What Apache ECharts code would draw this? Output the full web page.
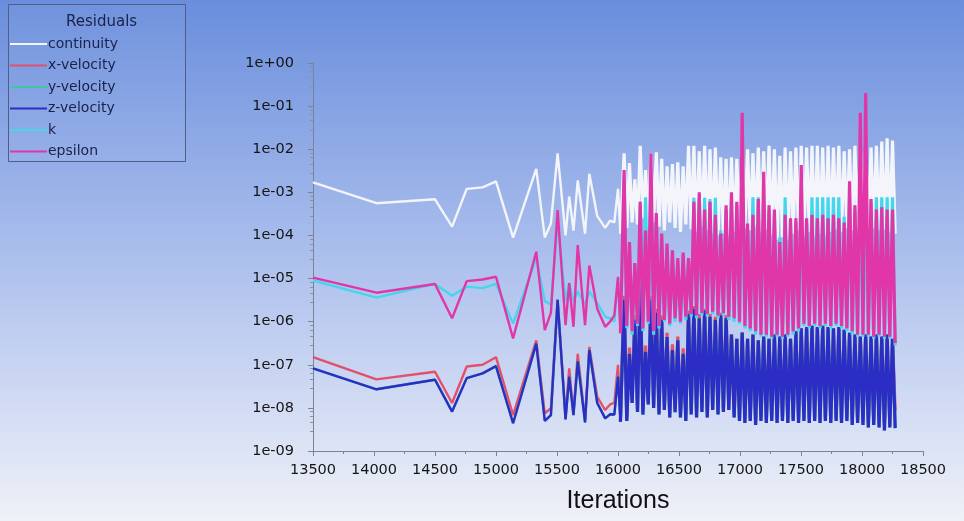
<!DOCTYPE html>
<html>
<head>
<meta charset="utf-8">
<script src="https://cdn.jsdelivr.net/npm/echarts@6/dist/echarts.min.js"></script>
<style>
html, body {margin: 0; padding: 0;}
#chart {width: 964px; height: 521px;}
</style>
</head>
<body>
<div id="chart"></div>
<script>
// iteration of every plotted vertex (shared by all residuals)
const iterations = [
	13500, 14020, 14500, 14640, 14760, 14890, 15000, 15140, 15330, 15400, 15450, 15505,
	15570, 15600, 15635, 15670, 15730, 15765, 15830, 15895, 15935, 15970, 16000, 16020,
	16050, 16072, 16094, 16116, 16138, 16160, 16182, 16204, 16226, 16248,
	16270, 16292, 16314, 16336, 16358, 16380, 16402, 16424, 16446, 16468,
	16490, 16512, 16534, 16556, 16578, 16600, 16622, 16644, 16666, 16688,
	16710, 16732, 16754, 16776, 16798, 16820, 16842, 16864, 16886, 16908,
	16930, 16952, 16974, 16996, 17018, 17040, 17062, 17084, 17106, 17128,
	17150, 17172, 17194, 17216, 17238, 17260, 17282, 17304, 17326, 17348,
	17370, 17392, 17414, 17436, 17458, 17480, 17502, 17524, 17546, 17568,
	17590, 17612, 17634, 17656, 17678, 17700, 17722, 17744, 17766, 17788,
	17810, 17832, 17854, 17876, 17898, 17920, 17942, 17964, 17986, 18008,
	18030, 18052, 18074, 18096, 18118, 18140, 18162, 18184, 18206, 18228,
	18250, 18272,
];
// index where the dense oscillating part starts (drawn with heavier strokes)
const denseStart = 23;

const continuity = [
	1.7e-3, 5.6e-4, 6.9e-4, 1.6e-4, 1.2e-3, 1.3e-3, 1.8e-3, 8.9e-5, 3.5e-3, 9e-5, 1.9e-4, 8e-3,
	1e-4, 8e-4, 1.3e-4, 1.9e-3, 1.1e-4, 2.7e-3, 2.8e-4, 1.5e-4, 2.2e-4, 2e-4, 1.2e-3, 1.1e-4,
	8e-3, 1.5e-4, 4.8e-3, 2e-4, 2e-3, 1.8e-4, 1.2e-2, 2.5e-4, 3.3e-3, 1.5e-4,
	8e-3, 2e-4, 8.5e-3, 1.6e-4, 6e-3, 1.3e-4, 4e-3, 2e-4, 4.5e-3, 1.5e-4,
	5e-3, 1.2e-4, 4e-3, 1.8e-4, 1.2e-2, 1.4e-4, 1.2e-2, 1.2e-4, 9e-3, 1.6e-4,
	1.2e-2, 1.3e-4, 1e-2, 1.1e-4, 1.1e-2, 1e-4, 6.5e-3, 1.1e-4, 6e-3, 1e-4,
	6.5e-3, 1.2e-4, 6e-3, 1.4e-4, 1.1e-2, 1.5e-4, 1e-2, 1.3e-4, 8e-3, 1.6e-4,
	1.1e-2, 1.2e-4, 9e-3, 1.4e-4, 1.2e-2, 1e-4, 1e-2, 8e-5, 7e-3, 9e-5,
	1.1e-2, 8e-5, 9e-3, 1.1e-4, 1.1e-2, 1.3e-4, 1.2e-2, 1e-4, 1.1e-2, 1.2e-4,
	1.2e-2, 9e-5, 1.2e-2, 1.1e-4, 1.1e-2, 1e-4, 1.2e-2, 1.2e-4, 1.1e-2, 1.4e-4,
	1.2e-2, 1.2e-4, 9e-3, 1.5e-4, 1e-2, 1.3e-4, 1.2e-2, 1.4e-4, 1.1e-2, 1.6e-4,
	1.1e-2, 1.3e-4, 1.1e-2, 1.5e-4, 1.2e-2, 1.3e-4, 1.5e-2, 1.4e-4, 1.8e-2, 1.2e-4,
	1.6e-2, 1.1e-4,
];

const xVelocity = [
	1.5e-7, 4.6e-8, 6.9e-8, 1.3e-8, 9.1e-8, 1e-7, 1.5e-7, 6.8e-9, 3.7e-7, 7.5e-9, 9.8e-9, 3.2e-6,
	6.3e-9, 8.3e-8, 7.4e-9, 1.8e-7, 5.2e-9, 2.6e-7, 1.8e-8, 8.9e-9, 1.2e-8, 1.3e-8, 1e-7, 5.2e-9,
	4e-6, 6e-9, 2.5e-7, 1.5e-8, 1.4e-6, 1e-8, 1e-5, 9e-9, 2.8e-7, 1.4e-8,
	4e-6, 1.2e-8, 2e-6, 9e-9, 1.4e-6, 1.1e-8, 5.5e-7, 8e-9, 3e-7, 1e-8,
	4.5e-7, 8e-9, 2.4e-7, 7e-9, 1.8e-6, 9e-9, 2.3e-6, 8e-9, 1.5e-6, 1e-8,
	2e-6, 8e-9, 1.5e-6, 1.1e-8, 1.3e-6, 9e-9, 1.6e-6, 1e-8, 1.4e-6, 1.1e-8,
	5e-7, 7e-9, 4e-7, 6e-9, 5.6e-7, 5.5e-9, 4e-7, 6e-9, 5e-7, 5e-9,
	3.7e-7, 6e-9, 4.5e-7, 5.5e-9, 4e-7, 6e-9, 5e-7, 5.5e-9, 4.5e-7, 6e-9,
	5e-7, 5.5e-9, 4e-7, 6e-9, 6e-7, 5.5e-9, 7e-7, 6e-9, 7.5e-7, 5.5e-9,
	8e-7, 6e-9, 7.5e-7, 5.5e-9, 8e-7, 6e-9, 7.5e-7, 5.5e-9, 7e-7, 6e-9,
	7.5e-7, 5.5e-9, 6.5e-7, 6e-9, 5.5e-7, 5e-9, 5e-7, 5.5e-9, 4.5e-7, 5e-9,
	5e-7, 4.5e-9, 4.5e-7, 5e-9, 5e-7, 4.5e-9, 4.5e-7, 4e-9, 5e-7, 4.5e-9,
	4e-7, 8.5e-9,
];

const zVelocity = [
	8.3e-8, 2.7e-8, 4.5e-8, 8.2e-9, 4.9e-8, 6.3e-8, 9.3e-8, 4.4e-9, 3.1e-7, 5e-9, 6.8e-9, 3.2e-6,
	5.4e-9, 5.3e-8, 6.8e-9, 1.2e-7, 4.6e-9, 2.2e-7, 1.3e-8, 5.7e-9, 7.1e-9, 7e-9, 5.3e-8, 4.8e-9,
	3.2e-6, 5e-9, 1.8e-7, 1.3e-8, 1.1e-6, 8e-9, 9e-6, 7e-9, 2e-7, 1.2e-8,
	3.2e-6, 1e-8, 1.6e-6, 7e-9, 1.1e-6, 9e-9, 4.4e-7, 6e-9, 2.2e-7, 8e-9,
	3.7e-7, 6e-9, 1.8e-7, 5e-9, 1.5e-6, 7e-9, 2e-6, 6e-9, 1.2e-6, 8e-9,
	1.8e-6, 6e-9, 1.3e-6, 9e-9, 1.1e-6, 7e-9, 1.4e-6, 8e-9, 1.2e-6, 9e-9,
	5e-7, 6e-9, 4e-7, 5e-9, 5.6e-7, 4.5e-9, 4e-7, 5e-9, 5e-7, 4e-9,
	3.7e-7, 5e-9, 4.5e-7, 4.5e-9, 4e-7, 5e-9, 5e-7, 4.5e-9, 4.5e-7, 5e-9,
	5e-7, 4.5e-9, 4e-7, 5e-9, 6e-7, 4.5e-9, 7e-7, 5e-9, 7.5e-7, 4.5e-9,
	8e-7, 5e-9, 7.5e-7, 4.5e-9, 8e-7, 5e-9, 7.5e-7, 4.5e-9, 7e-7, 5e-9,
	7.5e-7, 4.5e-9, 6.5e-7, 5e-9, 5.5e-7, 4e-9, 5e-7, 4.5e-9, 4.5e-7, 4e-9,
	5e-7, 3.5e-9, 4.5e-7, 4e-9, 5e-7, 3.5e-9, 4.5e-7, 3e-9, 5e-7, 3.5e-9,
	4e-7, 3.4e-9,
];

// the green y-velocity curve is not visible: it lies under z-velocity
const yVelocity = zVelocity;

const kResidual = [
	9e-6, 3.6e-6, 7.5e-6, 4e-6, 6.5e-6, 6e-6, 7.5e-6, 9e-7, 3e-5, 3e-6, 2.5e-6, 2e-4,
	3e-6, 8e-6, 3e-6, 5e-6, 2.5e-6, 5e-6, 2.7e-6, 1.3e-6, 1.2e-6, 1e-6, 1e-5, 6e-7,
	2e-3, 7e-7, 6e-5, 5e-7, 2e-5, 8e-7, 5e-4, 6e-7, 7.7e-4, 9e-7,
	1.5e-3, 5e-7, 2.5e-4, 7e-7, 1e-4, 1e-6, 5.5e-5, 8e-7, 4e-5, 1e-6,
	2.5e-5, 9e-7, 3.5e-5, 1.1e-6, 2.5e-5, 1.3e-6, 7.5e-4, 1.2e-6, 7.5e-4, 1.4e-6,
	7.5e-4, 1.3e-6, 7e-4, 1.5e-6, 7.5e-4, 1.2e-6, 1.3e-4, 1.4e-6, 4e-4, 1.1e-6,
	7e-4, 1e-6, 5e-4, 9e-7, 8e-4, 7e-7, 1.5e-4, 6e-7, 7.7e-4, 5e-7,
	7.7e-4, 4.5e-7, 8e-4, 4.5e-7, 4e-4, 4e-7, 3e-4, 4.5e-7, 9e-5, 4e-7,
	7.7e-4, 4.5e-7, 2e-4, 5e-7, 2e-4, 6e-7, 8e-4, 8e-7, 2e-4, 7e-7,
	7.7e-4, 8e-7, 7.7e-4, 7e-7, 7.7e-4, 8e-7, 7.7e-4, 7e-7, 7.7e-4, 8e-7,
	7.7e-4, 7e-7, 2.7e-4, 6e-7, 8e-4, 5e-7, 4e-4, 4.5e-7, 8e-4, 4.5e-7,
	8e-4, 4.5e-7, 6e-4, 4e-7, 7.7e-4, 4.5e-7, 7.7e-4, 4e-7, 7.7e-4, 4e-7,
	7.7e-4, 2.8e-7,
];

const epsilon = [
	1.05e-5, 4.7e-6, 7.5e-6, 1.2e-6, 8.7e-6, 9.5e-6, 1.1e-5, 4.1e-7, 4.2e-5, 6.4e-7, 1.6e-6, 3.9e-4,
	8.3e-7, 7.8e-6, 7.6e-7, 6e-5, 8.3e-7, 2e-5, 2e-6, 7.6e-7, 1e-6, 1.4e-6, 1.1e-5, 5.4e-7,
	3.3e-3, 8e-7, 7e-5, 6e-7, 2.3e-5, 9e-7, 6e-4, 7e-7, 1.3e-4, 1e-6,
	8e-3, 6e-7, 3.3e-4, 8e-7, 1.1e-4, 1.1e-6, 6.5e-5, 9e-7, 4.5e-5, 1.2e-6,
	3e-5, 1e-6, 4e-5, 1.3e-6, 3e-5, 1.5e-6, 6e-4, 1.4e-6, 1e-3, 1.6e-6,
	4e-4, 1.5e-6, 6e-4, 1.7e-6, 3e-4, 1.4e-6, 1.1e-4, 1.6e-6, 5e-4, 1.3e-6,
	1e-3, 1.2e-6, 6e-4, 1e-6, 7e-2, 8e-7, 1.9e-4, 7e-7, 3e-4, 6e-7,
	7e-4, 5e-7, 3e-3, 5e-7, 5e-4, 4.5e-7, 4e-4, 5e-7, 7e-5, 4.5e-7,
	3e-4, 5e-7, 2.5e-4, 6e-7, 2.5e-4, 7e-7, 4.3e-3, 9e-7, 2.5e-4, 8e-7,
	3e-4, 9e-7, 2.5e-4, 8e-7, 3e-4, 9e-7, 2.5e-4, 8e-7, 3e-4, 9e-7,
	2.5e-4, 8e-7, 2e-4, 7e-7, 1.8e-3, 6e-7, 5e-4, 5e-7, 7e-2, 5e-7,
	2e-1, 5e-7, 7e-4, 4.5e-7, 4e-4, 5e-7, 4.5e-4, 4.5e-7, 4e-4, 4.5e-7,
	4e-4, 3.2e-7,
];

const yTicks = ['1e+00', '1e-01', '1e-02', '1e-03', '1e-04', '1e-05', '1e-06', '1e-07', '1e-08', '1e-09'];

const residuals = [
	{name: 'continuity', values: continuity, color: '#f3f5fb'},
	{name: 'x-velocity', values: xVelocity, color: '#e2506a'},
	{name: 'y-velocity', values: yVelocity, color: '#3cc8a0'},
	{name: 'z-velocity', values: zVelocity, color: '#2b2dc4'},
	{name: 'k', values: kResidual, color: '#45d6ee'},
	{name: 'epsilon', values: epsilon, color: '#e036a8'},
];

const tickFont = 'DejaVu Sans, Verdana, sans-serif';

function expLabel(v) {
	const e = Math.round(Math.log10(v));
	const label = '1e' + (e < 0 ? '-' : '+') + String(Math.abs(e)).padStart(2, '0');
	return yTicks.indexOf(label) >= 0 ? label : '';
}

function lineSeries(r, from, to, width) {
	return {
		name: r.name,
		type: 'line',
		symbol: 'none',
		color: r.color,
		lineStyle: {width: width, color: r.color},
		data: iterations.slice(from, to).map((it, i) => [it, r.values[from + i]]),
	};
}

const series = [];
residuals.forEach(r => {
	series.push(lineSeries(r, 0, denseStart + 1, 2.4));
	series.push(lineSeries(r, denseStart, iterations.length, 3.2));
});

const chart = echarts.init(document.getElementById('chart'));

chart.setOption({
	animation: false,
	backgroundColor: new echarts.graphic.LinearGradient(0, 0, 0, 1, [
		{offset: 0, color: '#6a8edc'},
		{offset: 0.45, color: '#a6bbec'},
		{offset: 1, color: '#eff1f8'},
	]),
	textStyle: {fontFamily: tickFont},
	title: {
		text: 'Residuals',
		left: 61,
		top: 10,
		textStyle: {fontSize: 15, fontWeight: 'normal', color: '#1b2148', fontFamily: tickFont},
	},
	graphic: [{
		type: 'rect',
		shape: {x: 8.5, y: 4.5, width: 177, height: 157},
		style: {fill: 'rgba(255,255,255,0.04)', stroke: '#4f5d88', lineWidth: 1},
		z: -1,
	}],
	legend: {
		orient: 'vertical',
		left: 5,
		top: 32,
		icon: 'rect',
		itemWidth: 37,
		itemHeight: 2,
		itemGap: 7.5,
		selectedMode: false,
		textStyle: {
			fontSize: 14,
			lineHeight: 14,
			color: '#1b2148',
			padding: [0, 0, 0, -4],
			fontFamily: tickFont,
		},
		data: residuals.map(r => r.name),
	},
	grid: {
		left: 313,
		right: 41,
		top: 63,
		bottom: 70,
	},
	xAxis: {
		type: 'value',
		min: 13500,
		max: 18500,
		interval: 500,
		name: 'Iterations',
		nameLocation: 'middle',
		nameGap: 38,
		nameTextStyle: {fontSize: 25, color: '#111', fontFamily: 'Liberation Sans, Arial, sans-serif'},
		axisLine: {lineStyle: {color: '#7c8494', width: 1}},
		axisTick: {length: 5, lineStyle: {color: '#7c8494'}},
		minorTick: {show: true, splitNumber: 2, length: 3, lineStyle: {color: '#7c8494'}},
		axisLabel: {fontSize: 14.5, color: '#151515', margin: 12, formatter: v => String(v)},
		splitLine: {show: false},
	},
	yAxis: {
		type: 'log',
		logBase: 10,
		min: 1e-9,
		max: 1,
		splitNumber: 9,
		axisLine: {show: true, lineStyle: {color: '#7c8494', width: 1}},
		axisTick: {show: true, length: 5, lineStyle: {color: '#7c8494'}},
		minorTick: {show: true, splitNumber: 5, length: 3, lineStyle: {color: '#8a92a2'}},
		axisLabel: {fontSize: 14.5, color: '#151515', margin: 19, formatter: expLabel},
		splitLine: {show: false},
	},
	series: series,
});
</script>
</body>
</html>
